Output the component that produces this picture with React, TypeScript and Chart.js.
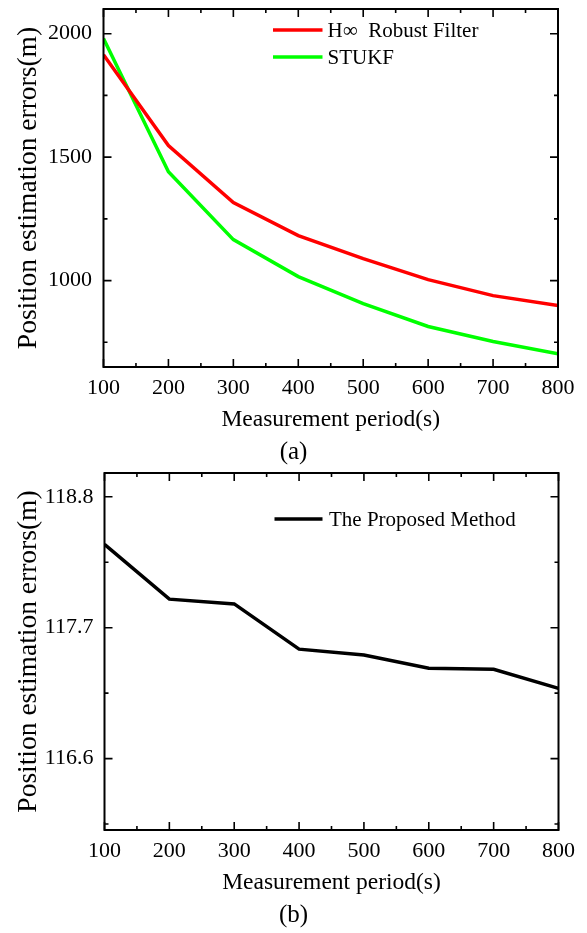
import React, { useEffect, useRef } from "react";
import { Chart, registerables } from "chart.js";

Chart.register(...registerables);

const FONT = "'Liberation Serif', 'Times New Roman', serif";

const periods = [100, 200, 300, 400, 500, 600, 700, 800];
const hInfErrors = [1915, 1547, 1316, 1182, 1089, 1004, 939, 899];
const stukfErrors = [1980, 1441, 1166, 1016, 907, 814, 753, 704];
const proposedErrors = [118.4, 117.94, 117.9, 117.52, 117.47, 117.36, 117.35, 117.19];

const xTicks = [100, 150, 200, 250, 300, 350, 400, 450, 500, 550, 600, 650, 700, 750, 800];
const xMajorTicks = [100, 200, 300, 400, 500, 600, 700, 800];
const yTicksA = [750, 1000, 1250, 1500, 1750, 2000];
const yMajorTicksA = [1000, 1500, 2000];
const yTicksB = [116.05, 116.6, 117.15, 117.7, 118.25, 118.8];
const yMajorTicksB = [116.6, 117.7, 118.8];

const isMajor = (v: number, majors: number[]) => majors.some((m) => Math.abs(m - v) < 1e-6);

const frameTicksPlugin = {
  id: "frameTicks",
  afterDraw(chart: any, _args: any, opts: any) {
    const { ctx, chartArea } = chart;
    const { left, right, top, bottom } = chartArea;
    const xs = chart.scales.x;
    const ys = chart.scales.y;
    ctx.save();
    ctx.strokeStyle = "#000";
    ctx.lineWidth = 2;
    ctx.strokeRect(left, top, right - left, bottom - top);
    ctx.lineWidth = 1.6;
    const major = 8;
    const minor = 4;
    ctx.beginPath();
    for (const t of xs.ticks) {
      const px = xs.getPixelForValue(t.value);
      const len = isMajor(t.value, opts.xMajors) ? major : minor;
      ctx.moveTo(px, bottom);
      ctx.lineTo(px, bottom - len);
      ctx.moveTo(px, top);
      ctx.lineTo(px, top + len);
    }
    for (const t of ys.ticks) {
      const py = ys.getPixelForValue(t.value);
      const len = isMajor(t.value, opts.yMajors) ? major : minor;
      ctx.moveTo(left, py);
      ctx.lineTo(left + len, py);
      ctx.moveTo(right, py);
      ctx.lineTo(right - len, py);
    }
    ctx.stroke();
    ctx.restore();
  },
};

const legendPlugin = {
  id: "innerLegend",
  afterDraw(chart: any, _args: any, opts: any) {
    const { ctx } = chart;
    ctx.save();
    chart.data.datasets.forEach((ds: any, i: number) => {
      const y = opts.y + i * opts.dy;
      ctx.strokeStyle = ds.borderColor;
      ctx.lineWidth = 3.5;
      ctx.beginPath();
      ctx.moveTo(opts.x1, y);
      ctx.lineTo(opts.x2, y);
      ctx.stroke();
      ctx.fillStyle = "#000";
      ctx.font = `${opts.size}px ${FONT}`;
      ctx.textBaseline = "middle";
      ctx.textAlign = "left";
      ctx.fillText(ds.label, opts.x2 + opts.gap, y + 1);
    });
    ctx.restore();
  },
};

function makeConfig(p: any): any {
  return {
    type: "line",
    data: {
      datasets: p.series.map((s: any) => ({
        label: s.label,
        data: periods.map((x, i) => ({ x, y: s.values[i] })),
        borderColor: s.color,
        backgroundColor: s.color,
        borderWidth: 3.5,
        pointRadius: 0,
        tension: 0,
        fill: false,
        yAxisID: "y",
      })),
    },
    options: {
      animation: false,
      responsive: false,
      events: [],
      layout: { padding: { left: 0, right: 0, top: p.padTop, bottom: 0 } },
      scales: {
        x: {
          type: "linear",
          min: 100,
          max: 800,
          afterBuildTicks: (s: any) => {
            s.ticks = xTicks.map((v) => ({ value: v }));
          },
          afterFit: (s: any) => {
            s.height = 70;
            s.paddingLeft = 0;
            s.paddingRight = 0;
          },
          grid: { display: false, drawTicks: false },
          border: { display: false },
          ticks: {
            color: "#000",
            font: { family: FONT, size: 22 },
            padding: 7.8,
            maxRotation: 0,
            autoSkip: false,
            callback: (v: number) => (isMajor(v, xMajorTicks) ? String(v) : ""),
          },
          title: {
            display: true,
            text: "Measurement period(s)",
            color: "#000",
            font: { family: FONT, size: 23.5 },
            padding: { top: 0, bottom: 2.9 },
          },
        },
        y: {
          type: "linear",
          position: "left",
          min: p.yMin,
          max: p.yMax,
          afterBuildTicks: (s: any) => {
            s.ticks = p.yTicks.map((v: number) => ({ value: v }));
          },
          afterFit: (s: any) => {
            s.width = p.yWidth;
            s.paddingTop = 0;
            s.paddingBottom = 0;
          },
          grid: { display: false, drawTicks: false },
          border: { display: false },
          ticks: {
            color: "#000",
            font: { family: FONT, size: 22 },
            padding: p.yTickPad,
            autoSkip: false,
            callback: (v: number) => (isMajor(v, p.yMajors) ? p.fmt(v) : ""),
          },
          title: {
            display: true,
            text: "Position estimation errors(m)",
            color: "#000",
            font: { family: FONT, size: 27.5 },
            padding: { top: 12.3, bottom: 0 },
          },
        },
        yRightSpace: {
          type: "linear",
          position: "right",
          display: true,
          min: 0,
          max: 1,
          afterFit: (s: any) => {
            s.width = p.rightSpace;
            s.paddingTop = 0;
            s.paddingBottom = 0;
          },
          grid: { display: false, drawTicks: false },
          border: { display: false },
          ticks: { display: false },
        },
      },
      plugins: {
        legend: { display: false },
        tooltip: { enabled: false },
        title: {
          display: true,
          position: "bottom",
          text: p.caption,
          color: "#000",
          font: { family: FONT, size: 25, weight: "normal" },
          padding: { top: 0, bottom: 3 },
        },
        frameTicks: { xMajors: xMajorTicks, yMajors: p.yMajors },
        innerLegend: p.legend,
      },
    },
    plugins: [frameTicksPlugin, legendPlugin],
  };
}

function ChartCanvas({ config, height, top }: { config: any; height: number; top: number }) {
  const ref = useRef<HTMLCanvasElement | null>(null);
  useEffect(() => {
    if (!ref.current) return;
    const chart = new Chart(ref.current, config);
    return () => chart.destroy();
  }, [config]);
  return (
    <canvas
      ref={ref}
      width={587}
      height={height}
      style={{ position: "absolute", left: 0, top, width: 587, height, display: "block" }}
    />
  );
}

const configA = makeConfig({
  padTop: 9,
  yMin: 650,
  yMax: 2100,
  yTicks: yTicksA,
  yMajors: yMajorTicksA,
  yWidth: 103.5,
  yTickPad: 11.5,
  rightSpace: 29,
  fmt: (v: number) => String(v),
  caption: "(a)",
  series: [
    { label: "H∞  Robust Filter", values: hInfErrors, color: "#ff0000" },
    { label: "STUKF", values: stukfErrors, color: "#00ff00" },
  ],
  legend: { x1: 273, x2: 322.5, y: 30, dy: 27, gap: 5, size: 21 },
});

const configB = makeConfig({
  padTop: 11,
  yMin: 116.0,
  yMax: 119.0,
  yTicks: yTicksB,
  yMajors: yMajorTicksB,
  yWidth: 104.5,
  yTickPad: 11,
  rightSpace: 28.5,
  fmt: (v: number) => v.toFixed(1),
  caption: "(b)",
  series: [{ label: "The Proposed Method", values: proposedErrors, color: "#000000" }],
  legend: { x1: 274.5, x2: 322.5, y: 57, dy: 27, gap: 6.5, size: 21 },
});

export default function App() {
  return (
    <div style={{ position: "absolute", left: 0, top: 0, width: 587, height: 933, background: "#fff" }}>
      <ChartCanvas config={configA} height={470} top={0} />
      <ChartCanvas config={configB} height={471} top={462} />
    </div>
  );
}
